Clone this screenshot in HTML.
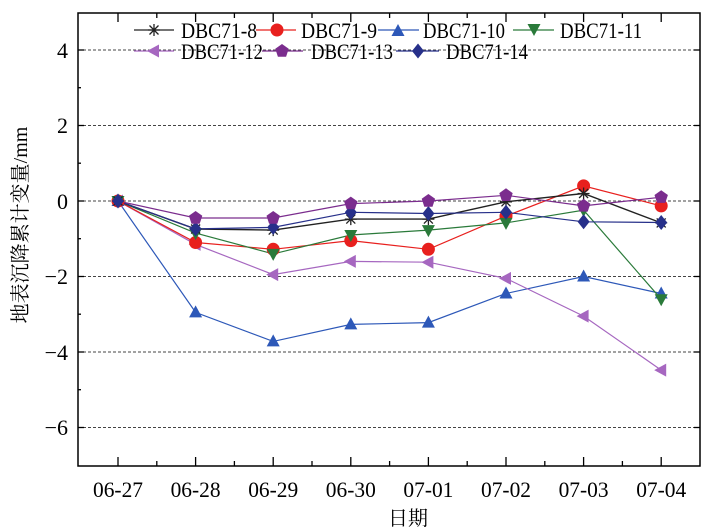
<!DOCTYPE html>
<html><head><meta charset="utf-8"><style>
html,body{margin:0;padding:0;background:#fff;}
svg{display:block;}
text{font-family:"Liberation Serif","Noto Serif CJK SC",serif;fill:#000;}
</style></head><body>
<svg width="708" height="532" viewBox="0 0 708 532" xmlns="http://www.w3.org/2000/svg">
<defs>
<g id="star"><path d="M-6,0H6M0,-6V6M-4.5,-4.5L4.5,4.5M-4.5,4.5L4.5,-4.5" stroke="#222" stroke-width="1.3" fill="none"/></g>
<circle id="circ" r="6" fill="#e8201e" stroke="#e8201e"/>
<path id="tri" d="M0,-7L6.5,5H-6.5Z" fill="#2d58b8"/>
<path id="tdn" d="M0,7L6.5,-5H-6.5Z" fill="#2a7a3a"/>
<path id="tl" d="M-7,0L5,-6.5V6.5Z" fill="#a667c0"/>
<path id="pent" d="M0,-7L6.7,-2.2L4.1,5.7H-4.1L-6.7,-2.2Z" fill="#7b2d8e"/>
<path id="dia" d="M0,-7.5L6,0L0,7.5L-6,0Z" fill="#27308a"/>
</defs>
<g stroke="#444" stroke-width="1.1" stroke-dasharray="3,2">
<line x1="78" x2="700" y1="50" y2="50"/>
<line x1="78" x2="700" y1="125.5" y2="125.5"/>
<line x1="78" x2="700" y1="201" y2="201"/>
<line x1="78" x2="700" y1="276.5" y2="276.5"/>
<line x1="78" x2="700" y1="352" y2="352"/>
<line x1="78" x2="700" y1="427.5" y2="427.5"/>
</g>
<rect x="78" y="13" width="622" height="453" fill="none" stroke="#000" stroke-width="1.5"/>
<g stroke="#000" stroke-width="1.3">
<line x1="78" x2="84" y1="50" y2="50"/><line x1="78" x2="84" y1="125.5" y2="125.5"/><line x1="78" x2="84" y1="201" y2="201"/><line x1="78" x2="84" y1="276.5" y2="276.5"/><line x1="78" x2="84" y1="352" y2="352"/><line x1="78" x2="84" y1="427.5" y2="427.5"/>
<line x1="78" x2="81" y1="87.7" y2="87.7"/><line x1="78" x2="81" y1="163.2" y2="163.2"/><line x1="78" x2="81" y1="238.7" y2="238.7"/><line x1="78" x2="81" y1="314.2" y2="314.2"/><line x1="78" x2="81" y1="389.7" y2="389.7"/>
<line x1="700" x2="694" y1="50" y2="50"/><line x1="700" x2="694" y1="125.5" y2="125.5"/><line x1="700" x2="694" y1="201" y2="201"/><line x1="700" x2="694" y1="276.5" y2="276.5"/><line x1="700" x2="694" y1="352" y2="352"/><line x1="700" x2="694" y1="427.5" y2="427.5"/>
<line x1="118" x2="118" y1="466" y2="457"/><line x1="195.6" x2="195.6" y1="466" y2="457"/><line x1="273.2" x2="273.2" y1="466" y2="457"/><line x1="350.8" x2="350.8" y1="466" y2="457"/><line x1="428.4" x2="428.4" y1="466" y2="457"/><line x1="506" x2="506" y1="466" y2="457"/><line x1="583.6" x2="583.6" y1="466" y2="457"/><line x1="661.2" x2="661.2" y1="466" y2="457"/>
<line x1="156.8" x2="156.8" y1="466" y2="461"/><line x1="234.4" x2="234.4" y1="466" y2="461"/><line x1="312" x2="312" y1="466" y2="461"/><line x1="389.6" x2="389.6" y1="466" y2="461"/><line x1="467.2" x2="467.2" y1="466" y2="461"/><line x1="544.8" x2="544.8" y1="466" y2="461"/><line x1="622.4" x2="622.4" y1="466" y2="461"/>
<line x1="118" x2="118" y1="13" y2="22"/><line x1="195.6" x2="195.6" y1="13" y2="22"/><line x1="273.2" x2="273.2" y1="13" y2="22"/><line x1="350.8" x2="350.8" y1="13" y2="22"/><line x1="428.4" x2="428.4" y1="13" y2="22"/><line x1="506" x2="506" y1="13" y2="22"/><line x1="583.6" x2="583.6" y1="13" y2="22"/><line x1="661.2" x2="661.2" y1="13" y2="22"/>
<line x1="156.8" x2="156.8" y1="13" y2="18"/><line x1="234.4" x2="234.4" y1="13" y2="18"/><line x1="312" x2="312" y1="13" y2="18"/><line x1="389.6" x2="389.6" y1="13" y2="18"/><line x1="467.2" x2="467.2" y1="13" y2="18"/><line x1="544.8" x2="544.8" y1="13" y2="18"/><line x1="622.4" x2="622.4" y1="13" y2="18"/>
</g>
<g font-size="22" text-anchor="end">
<text x="68" y="58">4</text><text x="68" y="133">2</text><text x="68" y="209">0</text><text x="68" y="284">−2</text><text x="68" y="360">−4</text><text x="68" y="435">−6</text>
</g>
<g font-size="22" text-anchor="middle">
<text x="118" y="497" textLength="50" lengthAdjust="spacingAndGlyphs">06-27</text>
<text x="195.6" y="497" textLength="50" lengthAdjust="spacingAndGlyphs">06-28</text>
<text x="273.2" y="497" textLength="50" lengthAdjust="spacingAndGlyphs">06-29</text>
<text x="350.8" y="497" textLength="50" lengthAdjust="spacingAndGlyphs">06-30</text>
<text x="428.4" y="497" textLength="50" lengthAdjust="spacingAndGlyphs">07-01</text>
<text x="506" y="497" textLength="50" lengthAdjust="spacingAndGlyphs">07-02</text>
<text x="583.6" y="497" textLength="50" lengthAdjust="spacingAndGlyphs">07-03</text>
<text x="661.2" y="497" textLength="50" lengthAdjust="spacingAndGlyphs">07-04</text>
<text x="408" y="525" font-size="20">日期</text>
</g>
<text transform="translate(27,225) rotate(-90)" font-size="20" text-anchor="middle">地表沉降累计变量/mm</text>

<polyline fill="none" stroke="#2d58b8" stroke-width="1.2" points="118,201 195.6,312.4 273.2,341.4 350.8,324.4 428.4,322.6 506,293.5 583.6,276.5 661.2,293.5"/>
<polyline fill="none" stroke="#a667c0" stroke-width="1.2" points="118,201 195.6,244.4 273.2,274.6 350.8,261.4 428.4,262.2 506,278.4 583.6,316.1 661.2,370.1"/>
<polyline fill="none" stroke="#e8201e" stroke-width="1.2" points="118,201 195.6,242.5 273.2,249.3 350.8,240.6 428.4,249.3 506,216.1 583.6,185.9 661.2,205.9"/>
<polyline fill="none" stroke="#2a7a3a" stroke-width="1.2" points="118,201 195.6,233.1 273.2,253.9 350.8,235 428.4,230.1 506,222.9 583.6,210.1 661.2,299.2"/>
<polyline fill="none" stroke="#222" stroke-width="1.4" points="118,201 195.6,229 273.2,230.1 350.8,219.1 428.4,219.1 506,201.8 583.6,193.5 661.2,222.9"/>
<polyline fill="none" stroke="#27308a" stroke-width="1.2" points="118,201 195.6,228.9 273.2,227.4 350.8,212.3 428.4,213.5 506,212.3 583.6,221.8 661.2,222.5"/>
<polyline fill="none" stroke="#7b2d8e" stroke-width="1.2" points="118,201 195.6,218 273.2,218 350.8,203.6 428.4,201 506,195.3 583.6,205.9 661.2,197.2"/>

<g>
<use href="#tri" x="118" y="201"/><use href="#tri" x="195.6" y="312.4"/><use href="#tri" x="273.2" y="341.4"/><use href="#tri" x="350.8" y="324.4"/><use href="#tri" x="428.4" y="322.6"/><use href="#tri" x="506" y="293.5"/><use href="#tri" x="583.6" y="276.5"/><use href="#tri" x="661.2" y="293.5"/>
<use href="#tl" x="118" y="201"/><use href="#tl" x="195.6" y="244.4"/><use href="#tl" x="273.2" y="274.6"/><use href="#tl" x="350.8" y="261.4"/><use href="#tl" x="428.4" y="262.2"/><use href="#tl" x="506" y="278.4"/><use href="#tl" x="583.6" y="316.1"/><use href="#tl" x="661.2" y="370.1"/>
<use href="#circ" x="118" y="201"/><use href="#circ" x="195.6" y="242.5"/><use href="#circ" x="273.2" y="249.3"/><use href="#circ" x="350.8" y="240.6"/><use href="#circ" x="428.4" y="249.3"/><use href="#circ" x="506" y="216.1"/><use href="#circ" x="583.6" y="185.9"/><use href="#circ" x="661.2" y="205.9"/>
<use href="#tdn" x="118" y="201"/><use href="#tdn" x="195.6" y="233.1"/><use href="#tdn" x="273.2" y="253.9"/><use href="#tdn" x="350.8" y="235"/><use href="#tdn" x="428.4" y="230.1"/><use href="#tdn" x="506" y="222.9"/><use href="#tdn" x="583.6" y="210.1"/><use href="#tdn" x="661.2" y="299.2"/>
<use href="#star" x="118" y="201"/><use href="#star" x="195.6" y="229"/><use href="#star" x="273.2" y="230.1"/><use href="#star" x="350.8" y="219.1"/><use href="#star" x="428.4" y="219.1"/><use href="#star" x="506" y="201.8"/><use href="#star" x="583.6" y="193.5"/><use href="#star" x="661.2" y="222.9"/>
<use href="#dia" x="118" y="201"/><use href="#dia" x="195.6" y="228.9"/><use href="#dia" x="273.2" y="227.4"/><use href="#dia" x="350.8" y="212.3"/><use href="#dia" x="428.4" y="213.5"/><use href="#dia" x="506" y="212.3"/><use href="#dia" x="583.6" y="221.8"/><use href="#dia" x="661.2" y="222.5"/>
<use href="#pent" x="195.6" y="218"/><use href="#pent" x="273.2" y="218"/><use href="#pent" x="350.8" y="203.6"/><use href="#pent" x="428.4" y="201"/><use href="#pent" x="506" y="195.3"/><use href="#pent" x="583.6" y="205.9"/><use href="#pent" x="661.2" y="197.2"/>
</g>

<g font-size="22">
<line x1="134" x2="174" y1="30" y2="30" stroke="#222" stroke-width="1.3"/><use href="#star" x="154" y="30"/>
<text x="181" y="38" textLength="76" lengthAdjust="spacingAndGlyphs">DBC71-8</text>
<line x1="256" x2="296" y1="30" y2="30" stroke="#e8201e" stroke-width="1.3"/><use href="#circ" x="277" y="30"/>
<text x="301" y="38" textLength="76" lengthAdjust="spacingAndGlyphs">DBC71-9</text>
<line x1="378" x2="419" y1="30" y2="30" stroke="#2d58b8" stroke-width="1.3"/><use href="#tri" x="398" y="31"/>
<text x="423" y="38" textLength="82" lengthAdjust="spacingAndGlyphs">DBC71-10</text>
<line x1="513" x2="554" y1="30" y2="30" stroke="#2a7a3a" stroke-width="1.3"/><use href="#tdn" x="534" y="29"/>
<text x="560" y="38" textLength="82" lengthAdjust="spacingAndGlyphs">DBC71-11</text>
<line x1="134" x2="174" y1="51" y2="51" stroke="#a667c0" stroke-width="1.3"/><use href="#tl" x="154" y="51"/>
<text x="181" y="59" textLength="82" lengthAdjust="spacingAndGlyphs">DBC71-12</text>
<line x1="262" x2="303" y1="51" y2="51" stroke="#7b2d8e" stroke-width="1.3"/><use href="#pent" x="282" y="51"/>
<text x="311" y="59" textLength="82" lengthAdjust="spacingAndGlyphs">DBC71-13</text>
<line x1="396" x2="439" y1="51" y2="51" stroke="#27308a" stroke-width="1.3"/><use href="#dia" x="418" y="51"/>
<text x="446" y="59" textLength="82" lengthAdjust="spacingAndGlyphs">DBC71-14</text>
</g>
</svg>
</body></html>
